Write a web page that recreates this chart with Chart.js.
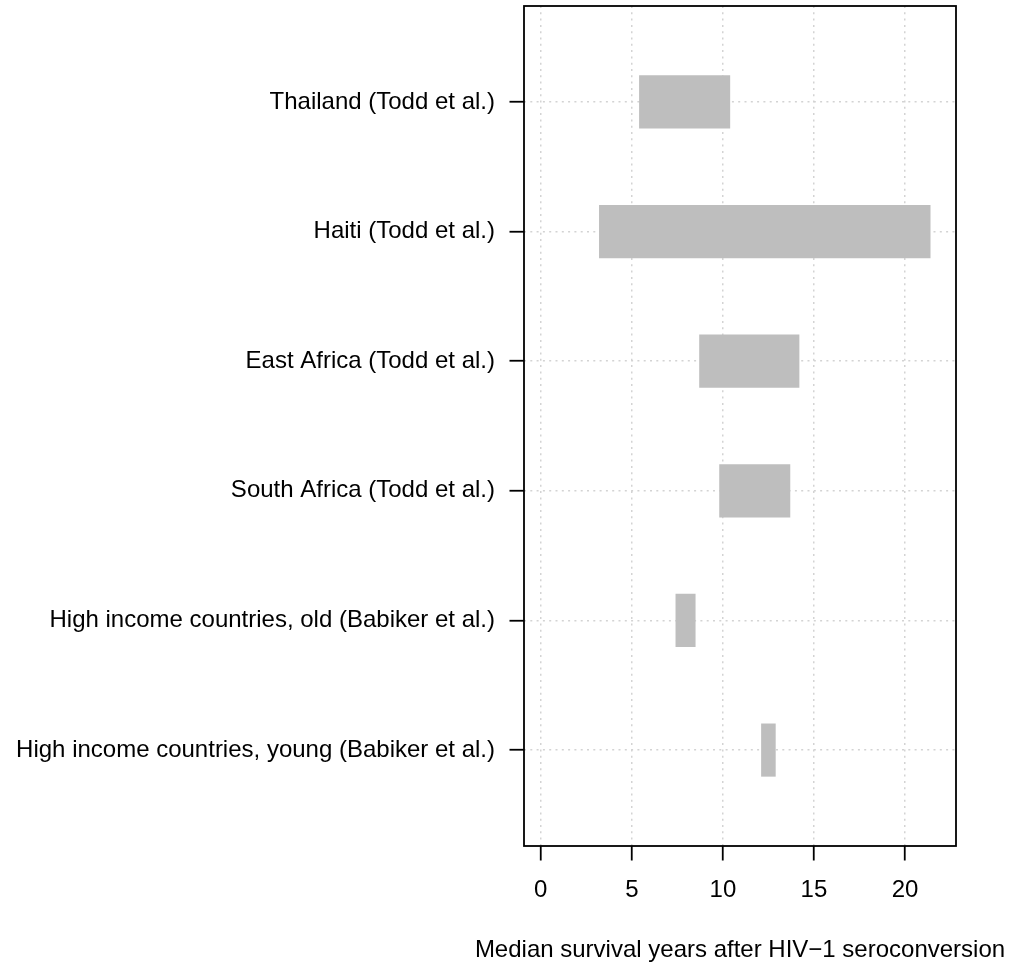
<!DOCTYPE html>
<html>
<head>
<meta charset="utf-8">
<title>Median survival after HIV-1 seroconversion</title>
<script src="https://cdn.jsdelivr.net/npm/chart.js@4/dist/chart.umd.min.js"></script>
<style>
  html, body { margin: 0; padding: 0; background: #ffffff; }
  #wrap { width: 1015px; height: 966px; }
</style>
</head>
<body>
<div id="wrap"><canvas id="chart" width="1015" height="966"></canvas></div>
<script>
// Study groups, top to bottom
const categories = [
  "Thailand (Todd et al.)",
  "Haiti (Todd et al.)",
  "East Africa (Todd et al.)",
  "South Africa (Todd et al.)",
  "High income countries, old (Babiker et al.)",
  "High income countries, young (Babiker et al.)"
];
// Range of median survival (years) for each group
const lowerYears = [5.4, 3.2, 8.7, 9.8, 7.4, 12.1];
const upperYears = [10.4, 21.4, 14.2, 13.7, 8.5, 12.9];
// Tick values on the survival axis
const xTicks = [0, 5, 10, 15, 20];
const xAxisTitle = 'Median survival years after HIV\u22121 seroconversion';

const FONT = '"Liberation Sans", Arial, Helvetica, sans-serif';

const rangeData = categories.map((c, i) => ({ x: [lowerYears[i], upperYears[i]], y: i + 1 }));

// Frame around the plotting region, plus the x-axis title centred under it
const boxPlugin = {
  id: 'plotBox',
  afterDraw(chart) {
    const a = chart.chartArea;
    const ctx = chart.ctx;
    ctx.save();
    ctx.strokeStyle = '#000000';
    ctx.lineWidth = 1.8;
    ctx.strokeRect(a.left, a.top, a.right - a.left, a.bottom - a.top);
    ctx.fillStyle = '#000000';
    ctx.font = '24px ' + FONT;
    ctx.textAlign = 'center';
    ctx.textBaseline = 'alphabetic';
    ctx.fillText(xAxisTitle, (a.left + a.right) / 2, a.bottom + 111);
    ctx.restore();
  }
};

new Chart(document.getElementById('chart'), {
  type: 'bar',
  data: {
    datasets: [{
      data: rangeData,
      backgroundColor: '#bebebe',
      borderWidth: 0,
      borderSkipped: false,
      barPercentage: 0.41,
      categoryPercentage: 1.0
    }]
  },
  options: {
    indexAxis: 'y',
    responsive: false,
    animation: false,
    devicePixelRatio: 1,
    layout: { padding: { top: 6, right: 59, left: 0, bottom: 0 } },
    plugins: {
      legend: { display: false },
      tooltip: { enabled: false },
      title: { display: false }
    },
    scales: {
      x: {
        type: 'linear',
        position: 'bottom',
        min: -0.92,
        max: 22.8,
        offset: false,
        z: 1,
        afterBuildTicks(scale) {
          scale.ticks = xTicks.map(v => ({ value: v }));
        },
        afterFit(scale) {
          scale.height = 120;
        },
        grid: {
          offset: false,
          color: '#d3d3d3',
          lineWidth: 1.5,
          tickColor: '#000000',
          tickWidth: 1.8,
          tickLength: 14.5,
          tickBorderDash: []
        },
        border: { display: false, dash: [2, 4.3] },
        ticks: {
          color: '#000000',
          font: { family: FONT, size: 24 },
          padding: 15,
          maxRotation: 0,
          autoSkip: false
        }
      },
      y: {
        type: 'linear',
        position: 'left',
        reverse: true,
        min: 0.26,
        max: 6.74,
        offset: false,
        z: 1,
        afterBuildTicks(scale) {
          scale.ticks = categories.map((c, i) => ({ value: i + 1 }));
        },
        afterFit(scale) {
          scale.width = 524;
          scale.paddingTop = 0;
          scale.paddingBottom = 0;
        },
        grid: {
          offset: false,
          color: '#d3d3d3',
          lineWidth: 1.5,
          tickColor: '#000000',
          tickWidth: 1.8,
          tickLength: 14.5,
          tickBorderDash: []
        },
        border: { display: false, dash: [2, 4.3] },
        ticks: {
          color: '#000000',
          font: { family: FONT, size: 24 },
          padding: 14.5,
          autoSkip: false,
          callback: (v) => categories[Math.round(v) - 1]
        }
      }
    }
  },
  plugins: [boxPlugin]
});
</script>
</body>
</html>
